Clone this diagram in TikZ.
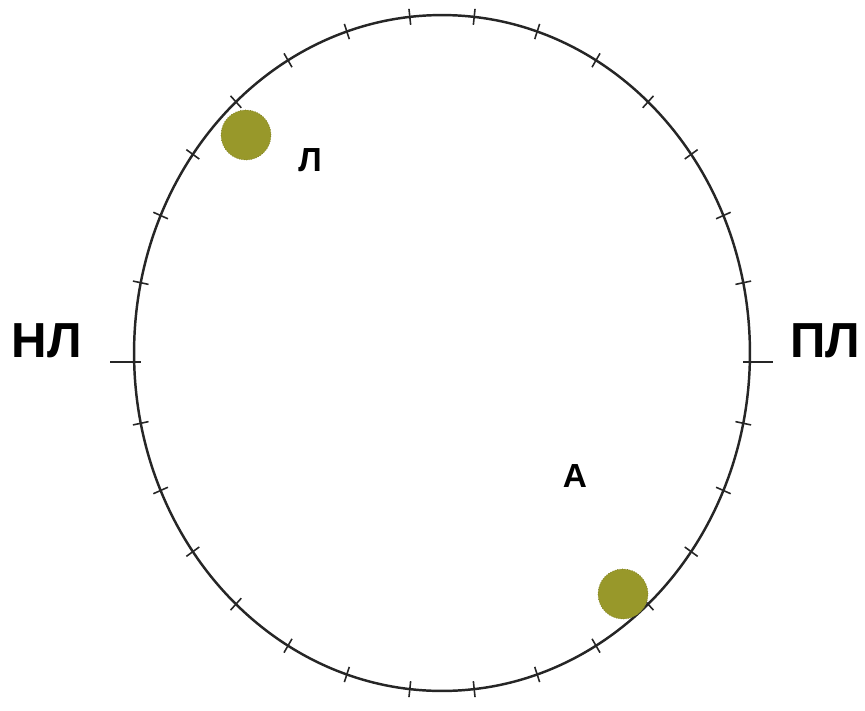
\documentclass[tikz,border=0pt]{standalone}
\usepackage{fontspec}
\setmainfont{Liberation Sans}
\usepackage{xcolor}
\usepackage{tikz}
\usetikzlibrary{positioning, calc}
\definecolor{dotolive}{RGB}{152,152,42}

\begin{document}
\begin{tikzpicture}[
    x=0.02cm, y=-0.02cm,
    rim/.style={draw=black!85, line width=1.4pt},
    tickline/.style={draw=black!85, line width=0.9pt},
    dot/.style={circle, fill=dotolive, draw=dotolive!80!black, densely dotted, minimum size=1.0cm, inner sep=0pt},
    side/.style={font=\fontsize{28}{32}\selectfont\bfseries},
    letter/.style={font=\fontsize{19}{22}\selectfont\bfseries}
]
\useasboundingbox (0,0) rectangle (865,710);
\coordinate (o) at (442,353);
\draw[rim] (o) ellipse [x radius=6.16cm, y radius=6.76cm];
% small ticks every 12 degrees
\foreach \a in {12,24,...,168,192,204,...,348}
  \draw[tickline] ($(o)+({300*cos(\a)},{330*sin(\a)})$) -- ($(o)+({316*cos(\a)},{346*sin(\a)})$);
% long ticks left and right
\coordinate (lt) at (442-308,362);
\coordinate (rt) at (442+308,362);
\draw[tickline] ([xshift=-0.48cm]lt) -- ([xshift=0.14cm]lt);
\draw[tickline] ([xshift=-0.14cm]rt) -- ([xshift=0.46cm]rt);
\node[side] (nl) at (47,341) {НЛ};
\node[side] (pl) at (825,341) {ПЛ};
\node[dot] (d1) at (246,135) {};
\node[dot] (d2) at (623,594) {};
\node[letter] (l) at (310,160) {Л};
\node[letter] (a) at (575,476) {А};
\end{tikzpicture}
\end{document}
